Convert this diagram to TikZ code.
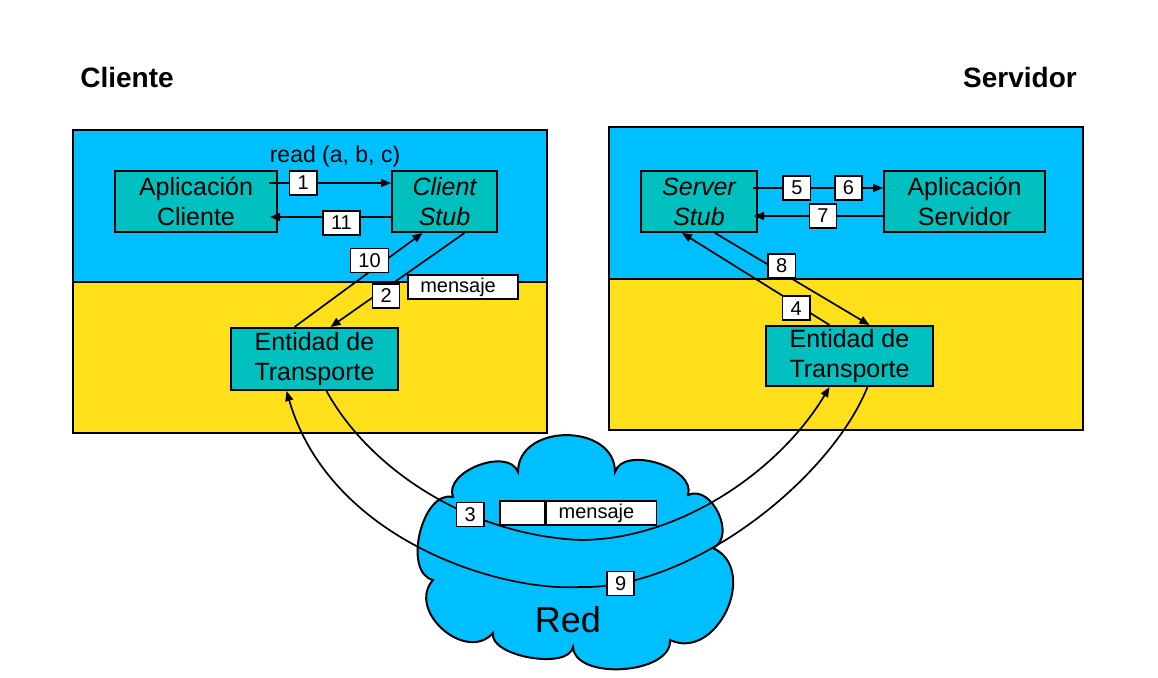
\documentclass[tikz,border=0pt]{standalone}
\usepackage{fontspec}
\setmainfont{Liberation Sans}
\usetikzlibrary{positioning,calc,arrows.meta}

\definecolor{capaazul}{RGB}{0,191,255}
\definecolor{capaamarilla}{RGB}{255,224,26}
\definecolor{cajaverde}{RGB}{0,191,191}

\begin{document}
\begin{tikzpicture}[x=0.5pt, y=-0.5pt,
    caja/.style={draw, line width=1pt, fill=cajaverde, align=center, inner sep=0pt,
      font=\fontsize{12.5}{15}\selectfont},
    num/.style={draw, line width=0.8pt, fill=white, inner xsep=4pt, inner ysep=0pt,
      minimum height=12pt, font=\fontsize{10}{12}\selectfont},
    msj/.style={draw, line width=0.8pt, fill=white, text width=43pt, inner xsep=6pt,
      inner ysep=0pt, minimum height=12pt, align=left, font=\fontsize{10}{12}\selectfont},
    flecha/.style={-{Triangle[length=5pt,width=4pt]}, line width=0.85pt}]
    \useasboundingbox (0,0) rectangle (1158,678);

    % --- Panels (blue = application layer, yellow = transport layer) ---
    \fill[capaazul] (73,130) rectangle (547,282);
    \fill[capaamarilla] (73,282) rectangle (547,433);
    \draw[line width=1.3pt] (73,130) rectangle (547,433);
    \draw[line width=1.1pt] (73,282) -- (547,282);

    \fill[capaazul] (609,127) rectangle (1083,279);
    \fill[capaamarilla] (609,279) rectangle (1083,430);
    \draw[line width=1.3pt] (609,127) rectangle (1083,430);
    \draw[line width=1.1pt] (609,279) -- (1083,279);

    \node[font=\fontsize{14}{16}\selectfont\bfseries] (tcli) at (127,77) {Cliente};
    \node[font=\fontsize{14}{16}\selectfont\bfseries] (tsrv) at (1020,77) {Servidor};

    % --- Red (cloud) ---
    \draw[line width=1pt, fill=capaazul]
      (518,472) to[bend left=90, looseness=1.3] (615,472)
      to[bend left=90, looseness=0.95] (688,495)
      to[bend left=90, looseness=1.15] (713,548)
      to[bend left=90, looseness=1.3] (670,640)
      to[bend left=90, looseness=0.9] (573,647)
      to[bend left=90, looseness=0.75] (493,633)
      to[bend left=90, looseness=1.3] (433,580)
      to[bend left=90, looseness=0.95] (453,497)
      to[bend left=90, looseness=1] (518,472) -- cycle;
    \node[font=\fontsize{18}{20}\selectfont] (red) at (568,620) {Red};

    % --- Boxes ---
    \node[caja, minimum width=81pt, minimum height=30.5pt] (apcl) at (196,201.5) {Aplicación\\Cliente};
    \node[caja, minimum width=52.5pt, minimum height=30.5pt] (cstub) at (444.5,201.5) {\itshape Client\\\itshape Stub};
    \node[caja, minimum width=83.5pt, minimum height=31pt] (te1) at (314.5,359) {Entidad de\\Transporte};

    \node[caja, minimum width=58pt, minimum height=30.5pt] (sstub) at (699,201.5) {\itshape Server\\\itshape Stub};
    \node[caja, minimum width=80.5pt, minimum height=30.5pt] (apsv) at (964.5,201.5) {Aplicación\\Servidor};
    \node[caja, minimum width=83.5pt, minimum height=30pt] (te2) at (849.5,356) {Entidad de\\Transporte};

    % --- Client side calls ---
    \node[font=\fontsize{11.5}{14}\selectfont] (read) at (335,157) {read (a, b, c)};
    \draw[flecha] ([xshift=-4.5pt,yshift=9.25pt]apcl.east) -- node[num, pos=0.28] (n1) {1} ([yshift=9.25pt]cstub.west);
    \draw[flecha] ([yshift=-7.75pt]cstub.west) -- node[num, pos=0.41, yshift=-3pt] (n11) {11} ([xshift=-4pt,yshift=-7.75pt]apcl.east);
    \draw[flecha] ([xshift=-10pt]te1.north) -- node[num, pos=0.586, yshift=5.75pt] (n10) {10} ([xshift=-11pt]cstub.south);
    \draw[flecha] ([xshift=10pt]cstub.south) -- node[num, pos=0.585, yshift=-4pt] (n2) {2} ([xshift=8pt]te1.north);
    \node[msj, anchor=north west] (msj1) at ($(n2.north east)+(7,-9)$) {mensaje};

    % --- Server side calls ---
    \draw[flecha] ([xshift=-2.5pt,yshift=6.75pt]sstub.east) -- node[num, pos=0.337] (n5) {5} node[num, pos=0.735] (n6) {6} ([yshift=6.75pt]apsv.west);
    \draw[flecha] ([yshift=-7.25pt]apsv.west) -- node[num, pos=0.466] (n7) {7} ([xshift=-2pt,yshift=-7.25pt]sstub.east);
    \draw[flecha] ([xshift=8pt]sstub.south) -- node[num, pos=0.432, yshift=3.5pt] (n8) {8} ([xshift=10pt]te2.north);
    \draw[flecha] ([xshift=-10pt]te2.north) -- node[num, pos=0.226, yshift=-2pt] (n4) {4} ([xshift=-8.5pt]sstub.south);

    % --- Through the network ---
    \draw[flecha] ([xshift=6pt]te1.south) .. controls (370,470) and (470,535) .. (580,540) node[num, pos=0.65] (n3) {3}
      .. controls (680,540) and (780,470) .. ([xshift=-10pt]te2.south);
    \draw[flecha] ([xshift=9pt]te2.south) .. controls (830,480) and (690,590) .. (580,587) node[num, pos=0.88] (n9) {9}
      .. controls (500,592) and (330,540) .. ([xshift=-14pt]te1.south);

    % packet: header + mensaje
    \node[draw, line width=0.8pt, fill=white, minimum width=22.5pt, minimum height=12pt, inner sep=0pt] (cab) at (522.5,513) {};
    \node[msj, anchor=west] (msj2) at (cab.east) {mensaje};
    \draw[line width=1.6pt] (cab.north east) -- (cab.south east);

\end{tikzpicture}
\end{document}
